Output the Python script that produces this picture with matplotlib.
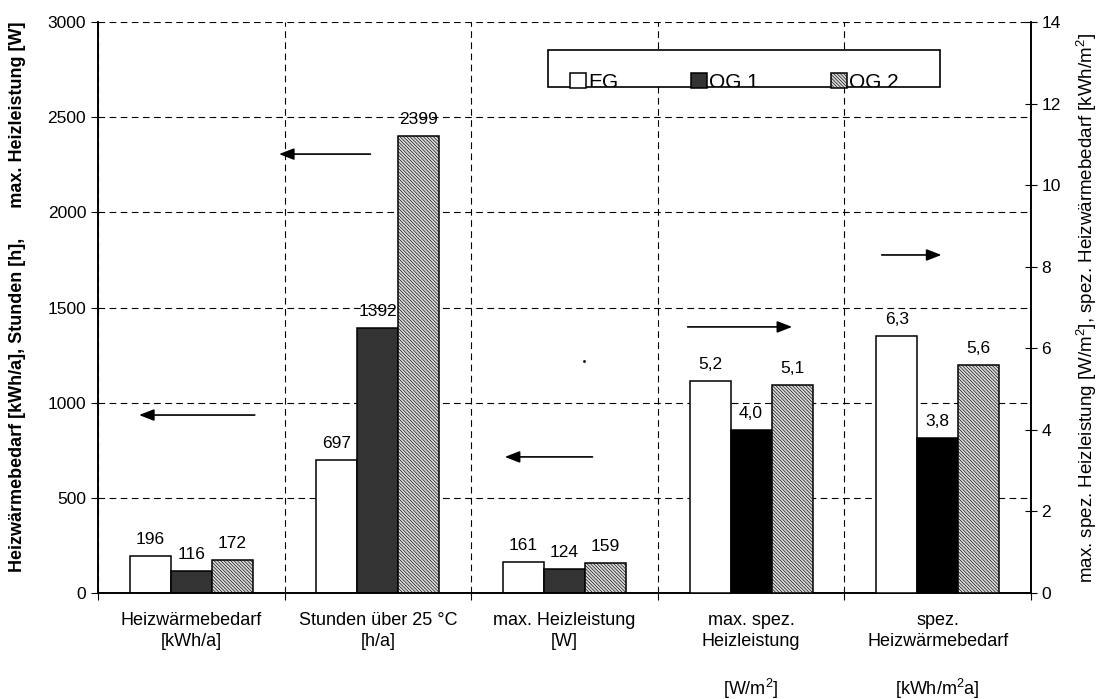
import matplotlib
matplotlib.use('Agg')
import matplotlib.pyplot as plt
import numpy as np
from matplotlib.patches import Rectangle
from matplotlib.transforms import TransformedBbox, Bbox

plt.rcParams['font.family'] = ['Liberation Sans', 'DejaVu Sans']
plt.rcParams['mathtext.fontset'] = 'custom'
plt.rcParams['mathtext.rm'] = 'Liberation Sans'
plt.rcParams['mathtext.it'] = 'Liberation Sans'
plt.rcParams['hatch.linewidth'] = 0.45

# Kategorien
categories = ['Heizwärmebedarf\n[kWh/a]', 'Stunden über 25 °C\n[h/a]',
              'max. Heizleistung\n[W]',
              'max. spez.\nHeizleistung\n\n[W/m$^2$]',
              'spez.\nHeizwärmebedarf\n\n[kWh/m$^2$a]']
series = ['EG', 'OG 1', 'OG 2']
# linke Achse (erste drei Gruppen)
eg_left = [196, 697, 161]
og1_left = [116, 1392, 124]
og2_left = [172, 2399, 159]
# rechte Achse (letzte zwei Gruppen)
eg_right = [5.2, 6.3]
og1_right = [4.0, 3.8]
og2_right = [5.1, 5.6]

W, H = 1103, 699
fig = plt.figure(figsize=(W / 100, H / 100), dpi=100)
ax = fig.add_axes([98 / W, 1 - 593 / H, (1031 - 98) / W, (593 - 22) / H])
ax2 = ax.twinx()

bw = 0.22
xl = np.arange(3) + 0.5
xr = np.arange(3, 5) + 0.5
hatch = '\\' * 10
fs = 12.5


def fmt(v):
    if isinstance(v, float):
        return ('%.1f' % v).replace('.', ',')
    return str(v)


def bars(a, x, vals, off, fc, h=None, label=None):
    b = a.bar(x + off * bw, vals, bw, color=fc, edgecolor='black', linewidth=1.1,
              hatch=h, label=label, zorder=3)
    for xi, v in zip(x + off * bw, vals):
        a.annotate(fmt(v), (xi, v), xytext=(0, 6.5), textcoords='offset points',
                   ha='center', va='bottom', fontsize=fs, zorder=4)
    return b


h1 = bars(ax, xl, eg_left, -1, 'white', label='EG')
h2 = bars(ax, xl, og1_left, 0, '#333333', label='OG 1')
h3 = bars(ax, xl, og2_left, 1, '#dcdcdc', h=hatch, label='OG 2')
bars(ax2, xr, eg_right, -1, 'white')
bars(ax2, xr, og1_right, 0, 'black')
bars(ax2, xr, og2_right, 1, '#dcdcdc', h=hatch)

ax.set_xlim(0, 5)
ax.set_ylim(0, 3000)
ax2.set_ylim(0, 14)
ax.set_yticks(np.arange(0, 3001, 500))
ax2.set_yticks(np.arange(0, 15, 2))

ax.set_xticks(np.arange(0, 6))
ax.set_xticklabels([])
ax.set_xticks(np.arange(5) + 0.5, minor=True)
ax.set_xticklabels(categories, minor=True, fontsize=13, linespacing=1.3, va='top')
ax.tick_params(axis='x', which='minor', length=0, pad=14)
ax.tick_params(axis='x', which='major', length=5, direction='out')
ax.tick_params(axis='y', labelsize=fs, length=5, direction='out')
ax2.tick_params(axis='y', labelsize=fs, length=8, direction='inout')

ax.grid(True, which='major', axis='both', linestyle=(0, (6, 4)), color='black',
        linewidth=0.8, zorder=0)
ax.set_axisbelow(True)
for a in (ax, ax2):
    for s in a.spines.values():
        s.set_linewidth(1.2)
    a.spines['top'].set_visible(False)

ax.set_ylabel('Heizwärmebedarf [kWh/a], Stunden [h],      max. Heizleistung [W]',
              fontsize=13, fontweight='bold')
ax.yaxis.set_label_coords(-0.077, 0.518)
ax2.set_ylabel('max. spez. Heizleistung [W/m$^2$], spez. Heizwärmebedarf [kWh/m$^2$]',
               fontsize=13.5, labelpad=10)

# Pfeile: welche Achse gilt
arrows = [(0.84, 935, 0.22, 935), (1.46, 2306, 0.97, 2306), (2.65, 715, 2.18, 715),
          (3.16, 1398, 3.72, 1398), (4.20, 1776, 4.52, 1776)]
for x0, y0, x1, y1 in arrows:
    ax.annotate('', xy=(x1, y1), xytext=(x0, y0),
                arrowprops=dict(arrowstyle='-|>,head_length=0.9,head_width=0.35',
                                color='black', lw=1.2, shrinkA=0, shrinkB=0), zorder=5)
ax.plot([2.604], [1219], marker='.', color='black', markersize=2)

# Legende
rect = Rectangle((0.482, 0.886), 0.42, 0.065, transform=ax.transAxes, facecolor='white',
                 edgecolor='black', linewidth=1.2, zorder=6)
ax2.add_patch(rect)
leg = ax2.legend([h1, h2, h3], series, loc='lower left', bbox_to_anchor=(0.486, 0.845),
                 ncol=3, frameon=False, fontsize=15, handlelength=0.75, handleheight=0.75,
                 handletextpad=0.1, columnspacing=3.5)
leg.set_zorder(7)
clipbb = TransformedBbox(Bbox([[0.482, 0.886], [0.902, 0.951]]), ax.transAxes)
for t in leg.get_texts():
    t.set_clip_box(clipbb)
    t.set_clip_on(True)

fig.savefig('out.png', dpi=100)
